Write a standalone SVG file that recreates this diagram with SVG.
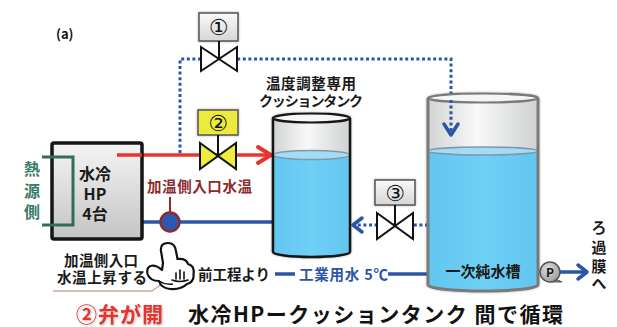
<svg xmlns="http://www.w3.org/2000/svg" width="617" height="327" viewBox="0 0 617 327">
  <defs>
    <linearGradient id="tankBody" x1="0" y1="0" x2="1" y2="0">
      <stop offset="0" stop-color="#d2d4d4"/>
      <stop offset="0.45" stop-color="#f8f8f8"/>
      <stop offset="1" stop-color="#cfd1d1"/>
    </linearGradient>
    <linearGradient id="water" x1="0" y1="0" x2="1" y2="0">
      <stop offset="0" stop-color="#62c6ef"/>
      <stop offset="0.5" stop-color="#6fd0f5"/>
      <stop offset="1" stop-color="#62c6ef"/>
    </linearGradient>
    <linearGradient id="hpBox" x1="0" y1="0" x2="0" y2="1">
      <stop offset="0" stop-color="#f4f4f4"/>
      <stop offset="1" stop-color="#c4c4c4"/>
    </linearGradient>
    <linearGradient id="labelBox" x1="0" y1="0" x2="0" y2="1">
      <stop offset="0" stop-color="#fafafa"/>
      <stop offset="1" stop-color="#d6d6d6"/>
    </linearGradient>
    <radialGradient id="pumpFill" cx="0.4" cy="0.35" r="0.7">
      <stop offset="0" stop-color="#e0e0e0"/>
      <stop offset="1" stop-color="#9a9a9a"/>
    </radialGradient>
    <filter id="soft" x="-10%" y="-10%" width="120%" height="120%">
      <feDropShadow dx="0" dy="0" stdDeviation="1.2" flood-color="#000" flood-opacity="0.35"/>
    </filter>
    <filter id="glow" x="-5%" y="-20%" width="110%" height="140%">
      <feDropShadow dx="1" dy="1" stdDeviation="1" flood-color="#888" flood-opacity="0.6"/>
    </filter>
  </defs>
  <style>
    text { font-family: "Noto Sans CJK JP", "Noto Sans", sans-serif; font-weight: bold; }
    .pipeRed { stroke: #e8352b; stroke-width: 3.5; fill: none; }
    .pipeBlue { stroke: #2b55a9; stroke-width: 3.5; fill: none; }
    .dot { stroke: #2b55a9; stroke-width: 3; fill: none; stroke-dasharray: 3 2.6; }
    .headBlue { stroke: #2b55a9; stroke-width: 3.5; fill: none; stroke-linecap: round; stroke-linejoin: round; }
    .headRed { stroke: #e8352b; stroke-width: 4; fill: none; stroke-linecap: round; stroke-linejoin: round; }
    .valve { stroke: #111; stroke-width: 2; stroke-linejoin: miter; }
    .tag { stroke: #555; stroke-width: 1.5; }
    .num { font-family: "DejaVu Sans", "Noto Sans CJK JP", sans-serif; font-weight: normal; font-size: 22px; fill: #111; text-anchor: middle; }
  </style>

  <!-- panel label -->
  <text x="56" y="39" font-size="13" fill="#111" font-family="Liberation Sans, Arial, sans-serif">(a)</text>

  <!-- piping -->
  <g id="connectors">
    <!-- bypass (valve 1) dotted loop into the primary tank -->
    <polyline class="dot" points="180,153 180,59 451,59 451,134"/>
    <polyline class="headBlue" points="444,124 451,135 458,124"/>
    <!-- heated supply to the cushion tank -->
    <line class="pipeRed" x1="117" y1="155" x2="270" y2="155"/>
    <polyline class="headRed" points="258,147 271,155 258,163"/>
    <!-- return from the cushion tank to the HP -->
    <polyline class="pipeBlue" points="273,222 118,222 118,156"/>
    <!-- make-up from the primary tank (valve 3) -->
    <line class="dot" x1="428" y1="225" x2="356" y2="225"/>
    <polyline class="headBlue" points="362,218 353,225 362,232"/>
    <!-- industrial water feed -->
    <line class="pipeBlue" x1="275" y1="274" x2="295" y2="274"/>
    <line class="pipeBlue" x1="388" y1="274" x2="428" y2="274"/>
    <!-- to filtration membrane -->
    <line class="pipeBlue" x1="560" y1="272" x2="586" y2="272"/>
    <polyline class="headBlue" points="578,265 587,272 578,279"/>
  </g>

  <!-- water-cooled heat pumps -->
  <g id="hp">
    <rect x="52" y="143" width="90" height="96" rx="2" fill="url(#hpBox)" stroke="#161616" stroke-width="3.5"/>
    <line x1="117" y1="155" x2="142" y2="155" stroke="#e8352b" stroke-width="3.5"/>
    <text x="95" y="180" font-size="16" text-anchor="middle" fill="#1a1a1a">水冷</text>
    <text x="95" y="200" font-size="16" text-anchor="middle" fill="#1a1a1a">HP</text>
    <text x="95" y="220" font-size="16" text-anchor="middle" fill="#1a1a1a">4台</text>
  </g>

  <!-- heat source side bracket -->
  <g id="heat-source">
    <polyline points="42,157 73,157 73,225 42,225" fill="none" stroke="#2f6e5c" stroke-width="3"/>
    <text x="32" y="175" font-size="16" text-anchor="middle" fill="#3b7c68">熱</text>
    <text x="32" y="197" font-size="16" text-anchor="middle" fill="#3b7c68">源</text>
    <text x="32" y="218" font-size="16" text-anchor="middle" fill="#3b7c68">側</text>
  </g>

  <!-- valve 1 -->
  <g id="valve1">
    <rect x="199" y="13" width="39" height="28" fill="url(#labelBox)" class="tag" filter="url(#soft)"/>
    <text x="218.5" y="35" class="num">①</text>
    <line x1="219" y1="41" x2="219" y2="59" stroke="#111" stroke-width="2"/>
    <polygon class="valve" fill="#fff" points="201,47 219,59 201,71"/>
    <polygon class="valve" fill="#fff" points="237,47 219,59 237,71"/>
  </g>

  <!-- valve 2 -->
  <g id="valve2">
    <rect x="198" y="110" width="40" height="25" fill="#ecea3c" class="tag" filter="url(#soft)"/>
    <text x="218" y="131" class="num">②</text>
    <line x1="218" y1="135" x2="218" y2="156" stroke="#111" stroke-width="2"/>
    <polygon class="valve" fill="#efec3d" points="200,143 218,156 200,169"/>
    <polygon class="valve" fill="#efec3d" points="236,143 218,156 236,169"/>
  </g>

  <!-- valve 3 -->
  <g id="valve3">
    <rect x="375" y="180" width="40" height="25" fill="url(#labelBox)" class="tag" filter="url(#soft)"/>
    <text x="395" y="201" class="num">③</text>
    <line x1="395" y1="205" x2="395" y2="226" stroke="#111" stroke-width="2"/>
    <polygon class="valve" fill="#fff" points="377,213 395,226 377,239"/>
    <polygon class="valve" fill="#fff" points="413,213 395,226 413,239"/>
  </g>

  <!-- cushion tank -->
  <g id="cushion-tank">
    <text x="311" y="89" font-size="14.5" text-anchor="middle" fill="#1a1a1a" textLength="90">温度調整専用</text>
    <text x="311" y="106" font-size="14" text-anchor="middle" fill="#1a1a1a" textLength="104">クッションタンク</text>
    <g filter="url(#soft)">
      <path d="M273 118 V252 A38.5 5 0 0 0 350 252 V118 Z" fill="url(#tankBody)"/>
      <path d="M273 155 V252 A38.5 5 0 0 0 350 252 V155 Z" fill="url(#water)"/>
      <ellipse cx="311.5" cy="155" rx="38.5" ry="4.5" fill="#a4dcf5" stroke="#7d9aa8" stroke-width="1.5"/>
      <path d="M273 118 V252 A38.5 5 0 0 0 350 252 V118" fill="none" stroke="#161616" stroke-width="2.5"/>
      <ellipse cx="311.5" cy="118" rx="38.5" ry="4.5" fill="#f7f7f7" stroke="#161616" stroke-width="2.2"/>
    </g>
  </g>

  <!-- primary pure water tank -->
  <g id="pure-water-tank">
    <g filter="url(#soft)">
      <path d="M428 98 V285 A55 6 0 0 0 538 285 V98 Z" fill="url(#tankBody)"/>
      <path d="M428 151 V285 A55 6 0 0 0 538 285 V151 Z" fill="url(#water)"/>
      <ellipse cx="483" cy="151" rx="55" ry="4" fill="#a4dcf5" stroke="#7d9aa8" stroke-width="1.5"/>
      <path d="M428 98 V285 A55 6 0 0 0 538 285 V98" fill="none" stroke="#7a7a7a" stroke-width="3"/>
      <ellipse cx="483" cy="98" rx="55" ry="4.5" fill="#f5f5f5" stroke="#7a7a7a" stroke-width="2.2"/>
    </g>
    <polyline class="dot" points="451,100 451,134"/>
    <polyline class="headBlue" points="444,124 451,135 458,124"/>
    <text x="483" y="277" font-size="15" text-anchor="middle" fill="#1a1a1a" textLength="75">一次純水槽</text>
  </g>

  <!-- inlet temperature sensor -->
  <g id="sensor">
    <text x="147" y="192" font-size="14.5" fill="#8b2d2d" textLength="105">加温側入口水温</text>
    <line x1="170" y1="197" x2="170" y2="214" stroke="#8b2d2d" stroke-width="2"/>
    <circle cx="170" cy="222" r="9.5" fill="#2c58b0" stroke="#8b2d2d" stroke-width="2.5"/>
  </g>

  <!-- pointing hand with note -->
  <g id="hand-note">
    <polyline points="53,291 152,291 163,283" fill="none" stroke="#b0675a" stroke-width="0.9"/>
    <text x="101" y="266" font-size="14.5" text-anchor="middle" fill="#1a1a1a" textLength="74">加温側入口</text>
    <text x="102" y="283" font-size="14.5" text-anchor="middle" fill="#1a1a1a" textLength="90">水温上昇する</text>
    <path d="M163 263 L161 251 Q160 243 168 243 Q175 243 176 251 L177.5 259
             Q186 258 188 264 Q195 266 193.5 274 Q194.5 282 187 284
             Q181 290 170 289 Q161 288 159 281
             Q150 281 147.5 274 Q146 266 153 265.5 Q158 266 162 270 Z"
          fill="#fff" stroke="#111" stroke-width="2.2" stroke-linejoin="round"/>
    <path d="M159 281 Q165 285 173 284" fill="none" stroke="#111" stroke-width="1.5"/>
    <path d="M176 279 V273 M180 279 V270 M184 279 V272 M172 280 Q180 283 188 280" fill="none" stroke="#111" stroke-width="1.6" stroke-linecap="round"/>
  </g>

  <!-- feed water label -->
  <g id="feed-label">
    <text x="198" y="280" font-size="14.5" fill="#1a1a1a" textLength="72">前工程より</text>
    <text x="299" y="280" font-size="14.5" fill="#2b55a9" textLength="89">工業用水 5℃</text>
  </g>

  <!-- transfer pump -->
  <g id="pump">
    <path d="M555 279 L562 282 L552 282 Z" fill="#9a9a9a" stroke="#555" stroke-width="1.2"/>
    <circle cx="550" cy="272" r="10" fill="url(#pumpFill)" stroke="#555" stroke-width="1.5"/>
    <text x="550" y="277" font-size="12" text-anchor="middle" fill="#1a1a1a" font-family="Liberation Sans, Arial, sans-serif">P</text>
  </g>

  <!-- outlet destination -->
  <g id="membrane-label">
    <text x="599" y="233" font-size="15" text-anchor="middle" fill="#1a1a1a">ろ</text>
    <text x="599" y="253" font-size="15" text-anchor="middle" fill="#1a1a1a">過</text>
    <text x="599" y="272" font-size="15" text-anchor="middle" fill="#1a1a1a">膜</text>
    <text x="599" y="289" font-size="15" text-anchor="middle" fill="#1a1a1a">へ</text>
  </g>

  <!-- caption -->
  <g id="caption">
    <text x="76" y="322" font-size="21" fill="#e8302a" textLength="87" filter="url(#glow)">②弁が開</text>
    <text x="188" y="322" font-size="21" fill="#111" textLength="375">水冷HPークッションタンク 間で循環</text>
  </g>
</svg>
